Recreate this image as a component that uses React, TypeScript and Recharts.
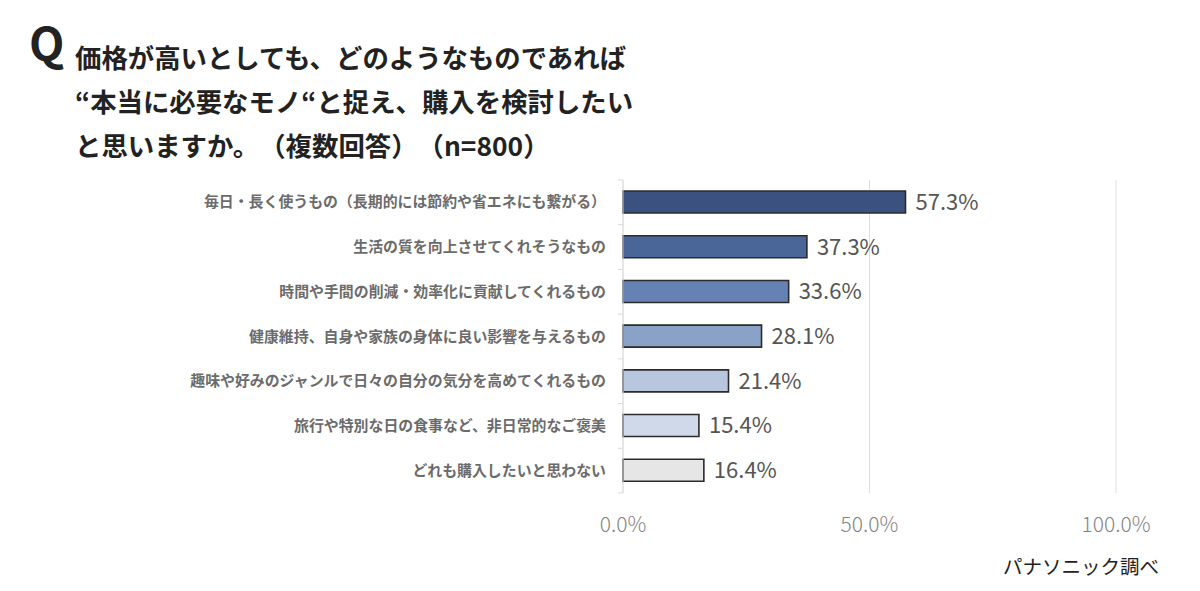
import { BarChart, Bar, XAxis, YAxis, CartesianGrid, Cell, LabelList } from 'recharts';

const categories = [
  '毎日・長く使うもの（長期的には節約や省エネにも繋がる）',
  '生活の質を向上させてくれそうなもの',
  '時間や手間の削減・効率化に貢献してくれるもの',
  '健康維持、自身や家族の身体に良い影響を与えるもの',
  '趣味や好みのジャンルで日々の自分の気分を高めてくれるもの',
  '旅行や特別な日の食事など、非日常的なご褒美',
  'どれも購入したいと思わない',
];
const values = [57.3, 37.3, 33.6, 28.1, 21.4, 15.4, 16.4];
const barColors = ['#3b5180', '#4a6699', '#6682b5', '#8aa1c8', '#b8c6de', '#d0d9e9', '#e6e6e6'];
const xTicks = [0, 50, 100];
const titleLines = [
  '価格が高いとしても、どのようなものであれば',
  '“本当に必要なモノ“と捉え、購入を検討したい',
  'と思いますか。（複数回答）（n=800）',
];

const data = categories.map((name, i) => ({ name, value: values[i] }));

const FONT = '"Noto Sans CJK JP", "Noto Sans", sans-serif';
const PLOT_TOP = 180;
const PLOT_BOTTOM = 493;
const BAND = (PLOT_BOTTOM - PLOT_TOP) / categories.length;

function CategoryTick(props: any) {
  const { x, y, payload, index } = props;
  return (
    <g>
      <line x1={x + 12} x2={x + 17} y1={y - BAND / 2} y2={y - BAND / 2} stroke="#d9d9d9" />
      {index === categories.length - 1 && (
        <line x1={x + 12} x2={x + 17} y1={y + BAND / 2} y2={y + BAND / 2} stroke="#d9d9d9" />
      )}
      <text
        x={x}
        y={y}
        dy={5}
        textAnchor="end"
        fontFamily={FONT}
        fontWeight={700}
        fontSize={14.9}
        fill="#6b6b6b"
      >
        {payload.value}
      </text>
    </g>
  );
}

export default function App() {
  return (
    <div
      style={{
        position: 'absolute',
        left: 0,
        top: 0,
        width: 1200,
        height: 591,
        background: '#fff',
        fontFamily: FONT,
        textSpacingTrim: 'space-all',
      } as any}
    >
      <div
        style={{
          position: 'absolute',
          left: 29,
          top: 18,
          fontSize: 46,
          fontWeight: 700,
          color: '#222',
          lineHeight: 1,
        }}
      >
        Q
      </div>
      {titleLines.map((line, i) => (
        <div
          key={i}
          style={{
            position: 'absolute',
            left: 75,
            top: 40 + i * 44,
            fontSize: 26.4,
            fontWeight: 700,
            color: '#222',
            lineHeight: 1.3,
            whiteSpace: 'nowrap',
          }}
        >
          {line}
        </div>
      ))}
      <div
        style={{
          position: 'absolute',
          left: 1003,
          top: 551,
          fontSize: 19.5,
          color: '#222',
          whiteSpace: 'nowrap',
        }}
      >
        パナソニック調べ
      </div>
      <div style={{ position: 'absolute', left: 0, top: 0 }}>
        <BarChart
          width={1200}
          height={591}
          data={data}
          layout="vertical"
          margin={{ top: PLOT_TOP, bottom: 0, left: 0, right: 84 }}
          barCategoryGap="25%"
        >
          <CartesianGrid horizontal={false} stroke="#dedede" />
          <XAxis
            type="number"
            domain={[0, 100]}
            ticks={xTicks}
            tickFormatter={(v: number) => `${v.toFixed(1)}%`}
            axisLine={false}
            tickLine={false}
            tickMargin={18}
            tick={{ fontSize: 21, fill: '#848484', fontFamily: FONT, fontWeight: 300 }}
            height={591 - PLOT_BOTTOM}
          />
          <YAxis
            type="category"
            dataKey="name"
            width={623}
            axisLine={{ stroke: '#dedede' }}
            tickLine={false}
            tickMargin={11}
            tick={<CategoryTick />}
            interval={0}
          />
          <Bar dataKey="value" stroke="#2b2b2b" strokeWidth={1.6} isAnimationActive={false} barSize={22}>
            {data.map((d, i) => (
              <Cell key={d.name} fill={barColors[i]} />
            ))}
            <LabelList
              dataKey="value"
              position="right"
              offset={10}
              formatter={(v: any) => `${Number(v).toFixed(1)}%`}
              style={{ fontSize: 22, fill: '#555', fontFamily: FONT, fontWeight: 400 }}
            />
          </Bar>
        </BarChart>
      </div>
    </div>
  );
}
